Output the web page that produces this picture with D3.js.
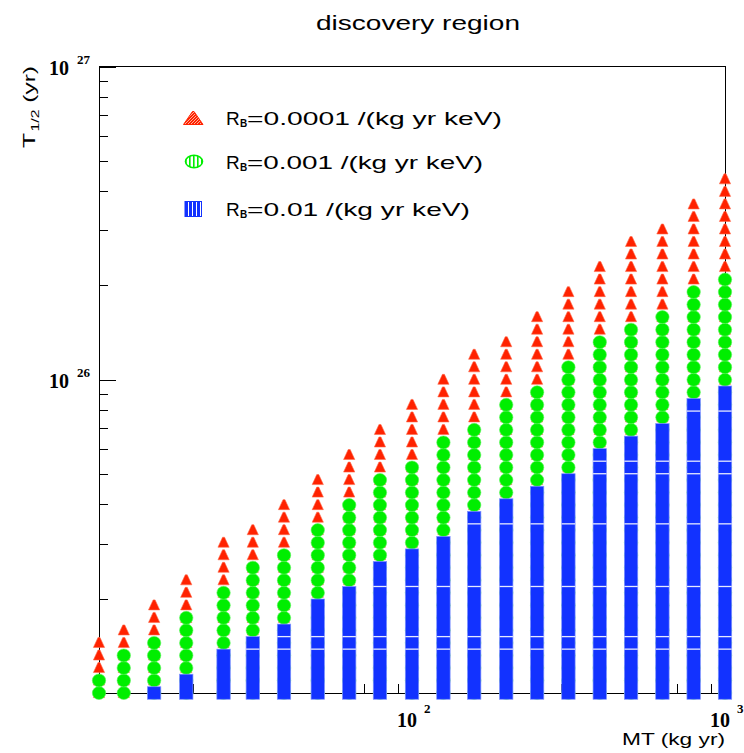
<!DOCTYPE html>
<html>
<head>
<meta charset="utf-8">
<script src="https://cdn.jsdelivr.net/npm/d3@7"></script>
<style>
  body { margin: 0; background: #ffffff; }
  svg { display: block; }
</style>
</head>
<body>
<svg id="chart" width="744" height="753"></svg>
<script>
// Exposure MT (kg yr) at which the discovery reach was evaluated
const exposure = [10, 12, 15, 19, 25, 31, 39, 50, 63, 79, 100, 126, 158, 200, 251, 316, 398, 501, 631, 794, 1000];
// Discovery half-life reach, in units of 1e25 yr, for each background index R_B
const reachRB0001 = [1.5, 1.6, 1.95, 2.3, 3.1, 3.4, 4.0, 4.8, 5.8, 7.0, 8.5, 10.2, 12.3, 13.5, 16, 19.5, 23, 28, 31, 37, 44];
const reachRB001  = [1.1, 1.35, 1.5, 1.75, 2.1, 2.55, 2.8, 3.35, 4.0, 4.8, 5.3, 6.4, 7.0, 8.4, 9.2, 11, 13.5, 14.5, 16, 19.5, 21];
const reachRB01   = [0.9, 0.9, 1.05, 1.1, 1.35, 1.5, 1.6, 1.95, 2.1, 2.55, 2.8, 3.1, 3.7, 4.0, 4.4, 4.8, 5.8, 6.4, 7.0, 8.4, 9.2];
const backgroundLabels = ["0.0001", "0.001", "0.01"];
const yLabelExponents = [26, 27];
const xLabelExponents = [2, 3];

// Half-life scan grid: 25 points per decade starting at 1e25 yr
const UNIT = 1e25;
const STEPS_PER_DECADE = 25;
const gridT = k => UNIT * Math.pow(10, k / STEPS_PER_DECADE);
const topStep = v => Math.floor(Math.log10(v) * STEPS_PER_DECADE + 1e-9);
// grid boundaries where the stacked boxes show a thin light seam
const seamSteps = [3.5, 4.5, 8.5, 13.5, 17.5, 18.5, 22.5];

const svg = d3.select("#chart");
const plot = { left: 99, right: 725, top: 66.5, bottom: 693 };
const x = d3.scaleLog().domain([10, 1000]).range([plot.left, plot.right]);
const y = d3.scaleLog().domain([1e25, 1e27]).range([plot.bottom, plot.top]);

const RED = "#ff2200", GREEN = "#00ee00", BLUE = "#1232ff";
const SANS = "'Liberation Sans', Arial, Helvetica, sans-serif";
const SERIF = "'Liberation Serif', 'Times New Roman', serif";

// patterns for legend glyphs
const defs = svg.append("defs");
const pRed = defs.append("pattern").attr("id", "hatchRed").attr("patternUnits", "userSpaceOnUse")
  .attr("width", 3).attr("height", 3);
pRed.append("rect").attr("width", 3).attr("height", 3).attr("fill", RED);
pRed.append("path").attr("d", "M0,3 L3,0").attr("stroke", "#ffd0c0").attr("stroke-width", 0.8);
const pGreen = defs.append("pattern").attr("id", "hatchGreen").attr("patternUnits", "userSpaceOnUse")
  .attr("width", 4).attr("height", 4);
pGreen.append("rect").attr("width", 4).attr("height", 4).attr("fill", "#ffffff");
pGreen.append("rect").attr("x", 1).attr("width", 1.6).attr("height", 4).attr("fill", GREEN);
const pBlue = defs.append("pattern").attr("id", "hatchBlue").attr("patternUnits", "userSpaceOnUse")
  .attr("width", 4).attr("height", 4).attr("x", 185);
pBlue.append("rect").attr("width", 4).attr("height", 4).attr("fill", BLUE);
pBlue.append("rect").attr("x", 3).attr("width", 1).attr("height", 4).attr("fill", "#ffffff");

// frame
svg.append("rect")
  .attr("x", plot.left).attr("y", plot.top)
  .attr("width", plot.right - plot.left).attr("height", plot.bottom - plot.top)
  .attr("fill", "none").attr("stroke", "#000").attr("stroke-width", 1)
  .attr("shape-rendering", "crispEdges");

// ticks (inside the frame)
const decadeMinor = base => d3.range(2, 10).map(m => m * base);
const yMinor = [...decadeMinor(1e25), ...decadeMinor(1e26)];
const yMajor = [1e26, 1e27];
const xMinor = [...decadeMinor(10), ...decadeMinor(100)];
const xMajor = [100, 1000];

function tickAxis(axis, tx, ty) {
  const g = svg.append("g").attr("transform", `translate(${tx},${ty})`).call(axis);
  g.select(".domain").remove();
  g.selectAll(".tick line").attr("stroke", "#000").attr("shape-rendering", "crispEdges");
  g.selectAll(".tick text").remove();
}
tickAxis(d3.axisLeft(y).tickValues(yMinor).tickSize(-9).tickFormat(""), plot.left, 0);
tickAxis(d3.axisLeft(y).tickValues(yMajor).tickSize(-17).tickFormat(""), plot.left, 0);
tickAxis(d3.axisBottom(x).tickValues(xMinor).tickSize(-9).tickFormat(""), 0, plot.bottom);
tickAxis(d3.axisBottom(x).tickValues(xMajor).tickSize(-17).tickFormat(""), 0, plot.bottom);

// marker positions from the reach values
const pointsFor = reach => exposure.flatMap((mt, i) =>
  d3.range(0, topStep(reach[i]) + 1).map(k => ({ mt, t: gridT(k) })));

// R_B = 0.0001 : triangles
svg.append("g").selectAll("path").data(pointsFor(reachRB0001)).join("path")
  .attr("d", d => {
    const cx = x(d.mt), cy = y(d.t);
    return `M${cx - 5.6},${cy + 4.6} L${cx + 5.6},${cy + 4.6} L${cx + 1},${cy - 5.4} L${cx - 1},${cy - 5.4} Z`;
  })
  .attr("fill", RED).attr("stroke", "#ff6a4a").attr("stroke-width", 0.6);

// R_B = 0.001 : circles
svg.append("g").selectAll("ellipse").data(pointsFor(reachRB001)).join("ellipse")
  .attr("cx", d => x(d.mt)).attr("cy", d => y(d.t))
  .attr("rx", 6.7).attr("ry", 6.5)
  .attr("fill", GREEN).attr("stroke", "#5cf55c").attr("stroke-width", 0.6);

// R_B = 0.01 : stacked boxes from the bottom of the scan up to the reach
const blueBars = exposure.map((mt, i) => ({ mt, n: topStep(reachRB01[i]) })).filter(d => d.n >= 0);
const blueG = svg.append("g");
blueG.selectAll("rect").data(blueBars).join("rect")
  .attr("x", d => x(d.mt) - 6.7)
  .attr("width", 13.4)
  .attr("y", d => y(gridT(d.n + 0.5)))
  .attr("height", d => y(gridT(-0.5)) - y(gridT(d.n + 0.5)))
  .attr("fill", BLUE).attr("stroke", "#7f93ff").attr("stroke-width", 0.7);
// light seams between stacked boxes
const seams = blueBars.flatMap(d => seamSteps.filter(s => s < d.n + 0.5).map(s => ({ mt: d.mt, t: gridT(s) })));
blueG.selectAll("line").data(seams).join("line")
  .attr("x1", d => x(d.mt) - 6.7).attr("x2", d => x(d.mt) + 6.7)
  .attr("y1", d => y(d.t)).attr("y2", d => y(d.t))
  .attr("stroke", "#e6eaff").attr("stroke-width", 1.3);

// stretched text helper
function label(txt, px, py, opts) {
  const t = svg.append("text").attr("x", px).attr("y", py)
    .attr("font-family", opts.family || SANS)
    .attr("font-size", opts.size)
    .attr("font-weight", opts.weight || "normal")
    .attr("text-anchor", opts.anchor || "start")
    .attr("fill", "#000")
    .text(txt);
  if (opts.length) t.attr("textLength", opts.length).attr("lengthAdjust", "spacingAndGlyphs");
  return t;
}

// title
label("discovery region", 418, 30, { size: 20, anchor: "middle", length: 204 });

// y tick labels
yLabelExponents.forEach(e => {
  const ty = y(Math.pow(10, e));
  label("10", 69, ty + 8.5, { family: SERIF, size: 20, weight: "bold", anchor: "end" });
  label(String(e), 77, ty - 2.5, { family: SERIF, size: 13, weight: "bold" });
});
// x tick labels
xLabelExponents.forEach(e => {
  const tx = x(Math.pow(10, e));
  label("10", tx + 5, 727, { family: SERIF, size: 20, weight: "bold", anchor: "end" });
  label(String(e), tx + 12, 713, { family: SERIF, size: 13, weight: "bold" });
});

// axis titles
label("MT (kg yr)", 725, 745, { size: 17, anchor: "end", length: 103 });
const yt = svg.append("g").attr("transform", "translate(35,0) rotate(-90)");
const ytText = yt.append("text").attr("x", -148).attr("y", 0)
  .attr("font-family", SANS).attr("font-size", 17).attr("fill", "#000");
ytText.append("tspan").text("T");
ytText.append("tspan").attr("font-size", 11).attr("dy", 4).attr("dx", 1).text("1/2");
ytText.append("tspan").attr("dy", -4).text(" (yr)");
ytText.attr("textLength", 82).attr("lengthAdjust", "spacingAndGlyphs");

// legend
const legendRows = [
  { cy: 118, base: 125, len: 255, glyph: "tri" },
  { cy: 161.5, base: 169, len: 236, glyph: "circ" },
  { cy: 209, base: 216, len: 223, glyph: "box" }
];
legendRows.forEach((r, i) => {
  if (r.glyph === "tri") {
    svg.append("path").attr("d", `M183.5,${r.cy + 6.5} L203,${r.cy + 6.5} L194,${r.cy - 6.5} L192.5,${r.cy - 6.5} Z`)
      .attr("fill", "url(#hatchRed)").attr("stroke", RED).attr("stroke-width", 1);
  } else if (r.glyph === "circ") {
    svg.append("ellipse").attr("cx", 194).attr("cy", r.cy).attr("rx", 8.5).attr("ry", 6.3)
      .attr("fill", "url(#hatchGreen)").attr("stroke", GREEN).attr("stroke-width", 1.6);
  } else {
    svg.append("rect").attr("x", 185).attr("y", r.cy - 7.5).attr("width", 16.5).attr("height", 15)
      .attr("fill", "url(#hatchBlue)").attr("stroke", BLUE).attr("stroke-width", 1);
  }
  label("R", 226, r.base, { size: 19 });
  label("B", 240, r.base + 1.5, { size: 10, weight: "bold" });
  label(`=${backgroundLabels[i]} /(kg yr keV)`, 247, r.base, { size: 19, length: r.len });
});
</script>
</body>
</html>
